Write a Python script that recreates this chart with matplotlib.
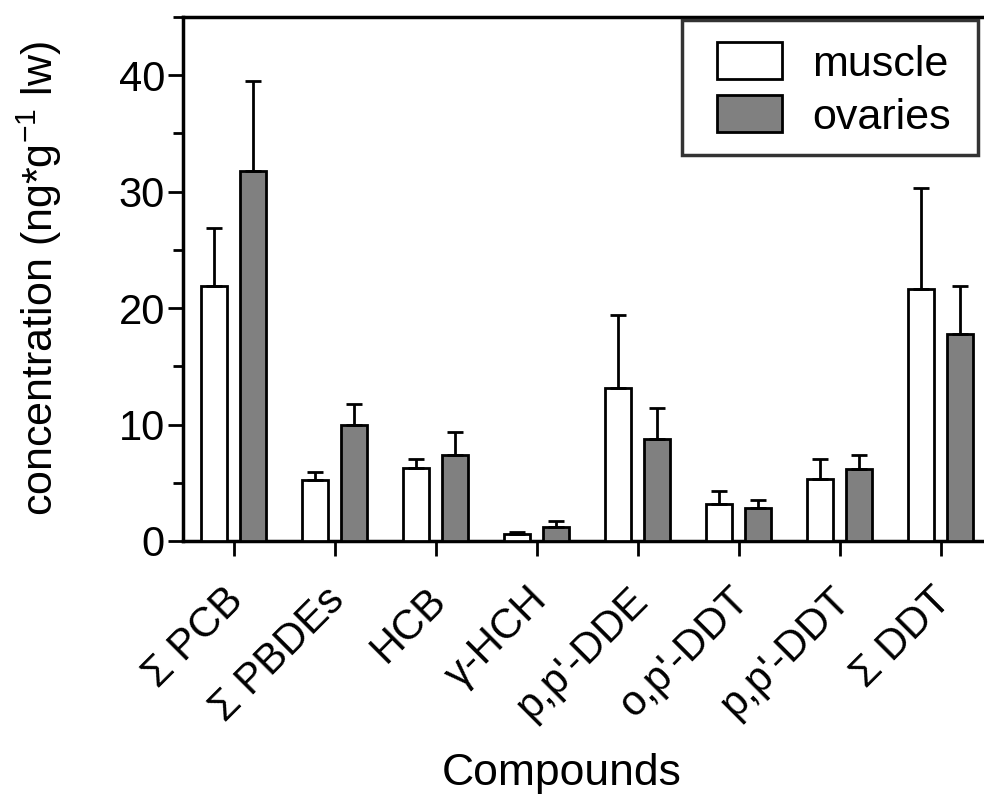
import matplotlib
matplotlib.use("Agg")
import matplotlib.pyplot as plt
import matplotlib.transforms as mtransforms
import numpy as np
from matplotlib.patches import Rectangle
from matplotlib.ticker import MultipleLocator

# values (ng*g-1 lw)
compounds = ['Σ PCB', 'Σ PBDEs', 'HCB', 'γ-HCH', "p,p'-DDE", "o,p'-DDT", "p,p'-DDT", 'Σ DDT']
muscle = [21.9, 5.2, 6.3, 0.6, 13.1, 3.2, 5.3, 21.6]
muscle_err = [5.0, 0.7, 0.7, 0.2, 6.3, 1.1, 1.7, 8.7]
ovaries = [31.8, 10.0, 7.4, 1.2, 8.8, 2.8, 6.2, 17.8]
ovaries_err = [7.7, 1.8, 2.0, 0.5, 2.6, 0.7, 1.2, 4.1]

plt.rcParams['font.family'] = ['Liberation Sans', 'DejaVu Sans']
plt.rcParams['mathtext.fontset'] = 'custom'
plt.rcParams['mathtext.rm'] = 'Liberation Sans'
plt.rcParams['mathtext.it'] = 'Liberation Sans'

fig = plt.figure(figsize=(9.84, 7.96), dpi=100)
# axes box in pixels: left 183, right ~991 (cropped), top 17, bottom 541
ax = fig.add_axes([183 / 984, 1 - 541 / 796, 808 / 984, 524 / 796])

x = np.arange(len(compounds))
w = 0.26
off = 0.195
zeros = np.zeros(len(x))
ekw = dict(ecolor='black', elinewidth=2.0, capsize=6, capthick=2.0)

ax.bar(x - off, muscle, width=w, color='white', edgecolor='black', linewidth=2.0,
       yerr=[zeros, muscle_err], error_kw=ekw, label='muscle', zorder=3)
ax.bar(x + off, ovaries, width=w, color='#808080', edgecolor='black', linewidth=2.0,
       yerr=[zeros, ovaries_err], error_kw=ekw, label='ovaries', zorder=3)

ax.set_xlim(-0.5, 7.5)
ax.set_ylim(0, 45)
ax.yaxis.set_major_locator(MultipleLocator(10))
ax.yaxis.set_minor_locator(MultipleLocator(5))
ax.set_xticks(x)

for s in ax.spines.values():
    s.set_linewidth(2.5)
ax.spines['right'].set_visible(False)

ax.tick_params(axis='both', which='major', labelsize=30, width=2.0, length=11, direction='out')
ax.tick_params(axis='y', which='minor', width=2.0, length=7, direction='out')
ax.tick_params(axis='x', which='major', pad=17)
ax.tick_params(axis='y', which='major', pad=2)

ax.set_xticklabels(compounds, rotation=45, ha='right', rotation_mode='anchor')
# nudge the rotated labels a little to the left (after tick_params, which resets transforms)
shift = mtransforms.ScaledTranslation(-10 / 100, 0, fig.dpi_scale_trans)
for lbl in ax.get_xticklabels():
    lbl.set_transform(lbl.get_transform() + shift)

ax.set_xlabel('Compounds', fontsize=32)
ax.set_ylabel('concentration (ng*g$^{-1}$ lw)', fontsize=31)
ax.xaxis.set_label_coords(0.469, -0.405)
ax.yaxis.set_label_coords(-0.1475, 0.5)

# legend frame drawn separately so the padding matches the original box
ax.add_patch(Rectangle((0.6176, 0.7366), 0.3664, 0.2577, transform=ax.transAxes,
                       facecolor='white', edgecolor='#333333', linewidth=2.5,
                       zorder=4, clip_on=False))
leg = ax.legend(loc='upper left', bbox_to_anchor=(0.661, 0.952), borderaxespad=0,
                fontsize=31, frameon=False, borderpad=0,
                handlelength=1.5, handleheight=0.95, handletextpad=0.7,
                labelspacing=0.25)
leg.set_zorder(5)

fig.savefig('out.png', dpi=100)
